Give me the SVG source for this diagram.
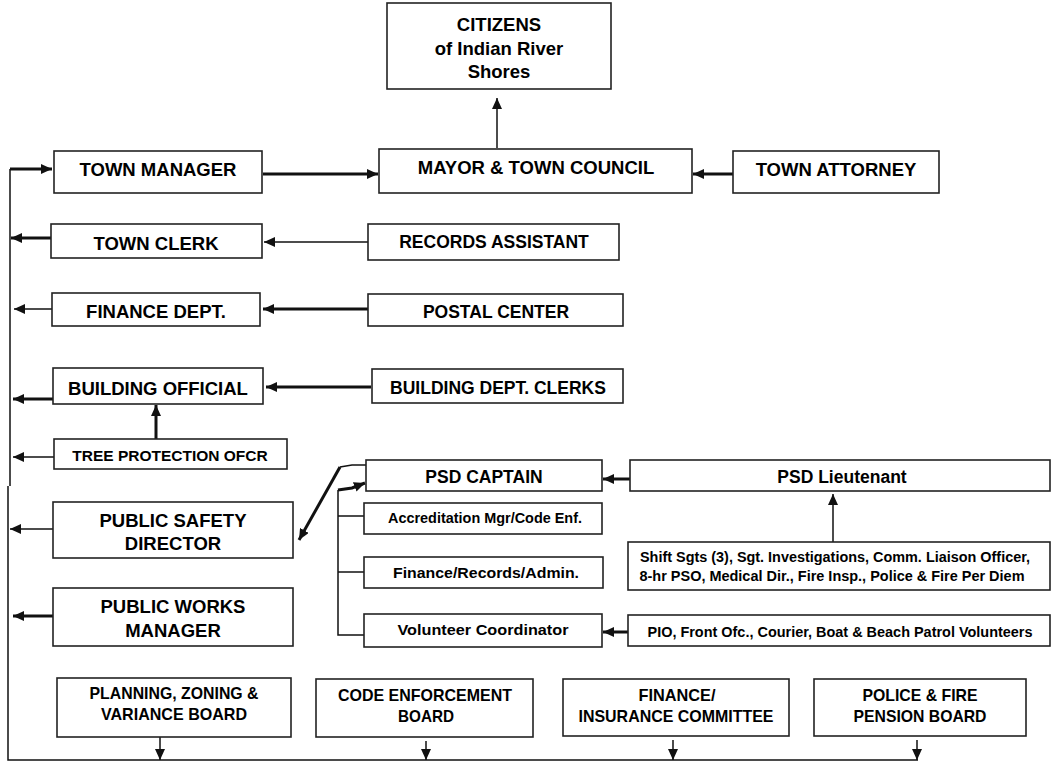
<svg xmlns="http://www.w3.org/2000/svg" width="1052" height="763" viewBox="0 0 1052 763">
<style>
.box{fill:#fff;stroke:#222;stroke-width:1.6}
text{font-family:"Liberation Sans",Arial,sans-serif;font-weight:bold;fill:#000;text-anchor:middle}
.t1{font-size:18.5px}
.t2{font-size:17.5px}
.t3{font-size:15.5px}
.t4{font-size:17px}
.t5{font-size:14px}
.thin{fill:none;stroke:#111;stroke-width:1.5}
.thick{fill:none;stroke:#111;stroke-width:3}
.arr{marker-end:url(#ah)}
</style>
<defs>
<marker id="ah" markerUnits="userSpaceOnUse" markerWidth="12" markerHeight="10" refX="11" refY="5" orient="auto">
<path d="M0,0 L11,5 L0,10 z" fill="#111"/>
</marker>
</defs>
<rect width="1052" height="763" fill="#fff"/>

<g id="connectors">
<!-- main left bus -->
<polyline class="thin" points="10,169 10,486"/>
<polyline class="thin" points="8,486 8,760 918,760"/>
<line class="thick arr" x1="10" y1="169" x2="52" y2="169"/>
<line class="thick arr" x1="263" y1="174" x2="378" y2="174"/>
<line class="thick arr" x1="733" y1="174" x2="693" y2="174"/>
<line class="thin arr" x1="497" y1="148" x2="497" y2="98"/>
<line class="thick arr" x1="51" y1="238" x2="11" y2="238"/>
<line class="thin arr" x1="368" y1="242" x2="264" y2="242"/>
<line class="thin arr" x1="52" y1="309" x2="14" y2="309"/>
<line class="thick arr" x1="368" y1="309" x2="263" y2="309"/>
<line class="thick arr" x1="53" y1="399" x2="13" y2="399"/>
<line class="thick arr" x1="371" y1="387" x2="266" y2="387"/>
<line class="thick arr" x1="156" y1="439" x2="156" y2="405"/>
<line class="thin arr" x1="54" y1="457" x2="13" y2="457"/>
<line class="thin arr" x1="53" y1="529" x2="10" y2="529"/>
<line class="thick arr" x1="53" y1="616" x2="13" y2="616"/>
<!-- PSD -->
<polyline class="thin" points="366,465 352,465 340,467"/>
<line class="thick arr" x1="340" y1="467" x2="299" y2="540"/>
<polyline class="thick arr" points="338,490 352,488 365,483"/>
<polyline class="thin" points="338,490 338,635 364,635"/>
<line class="thin" x1="338" y1="516" x2="364" y2="516"/>
<line class="thin" x1="338" y1="572" x2="364" y2="572"/>
<line class="thick arr" x1="630" y1="479" x2="603" y2="479"/>
<line class="thin arr" x1="833" y1="542" x2="833" y2="494"/>
<line class="thick arr" x1="628" y1="632" x2="603" y2="632"/>
<!-- bottom boards -->
<line class="thin arr" x1="160" y1="737" x2="160" y2="760"/>
<line class="thin arr" x1="426" y1="741" x2="426" y2="760"/>
<line class="thin arr" x1="673" y1="740" x2="673" y2="760"/>
<line class="thin arr" x1="917" y1="740" x2="917" y2="760"/>
</g>

<g id="citizens"><rect class="box" x="387" y="3" width="224" height="86"/>
<text class="t1" x="499" y="31">CITIZENS</text><text class="t1" x="499" y="55">of Indian River</text><text class="t1" x="499" y="78">Shores</text></g>
<g id="town-manager"><rect class="box" x="54" y="151" width="208" height="42"/><text class="t1" x="158" y="176">TOWN MANAGER</text></g>
<g id="mayor"><rect class="box" x="379" y="149" width="313" height="44"/><text class="t1" x="536" y="174">MAYOR &amp; TOWN COUNCIL</text></g>
<g id="town-attorney"><rect class="box" x="733" y="151" width="206" height="42"/><text class="t1" x="836" y="176">TOWN ATTORNEY</text></g>
<g id="town-clerk"><rect class="box" x="51" y="224" width="211" height="34"/><text class="t1" x="156" y="250">TOWN CLERK</text></g>
<g id="records-assistant"><rect class="box" x="368" y="224" width="251" height="36"/><text class="t2" x="494" y="248">RECORDS ASSISTANT</text></g>
<g id="finance-dept"><rect class="box" x="52" y="293" width="208" height="33"/><text class="t1" x="156" y="318">FINANCE DEPT.</text></g>
<g id="postal-center"><rect class="box" x="368" y="294" width="255" height="32"/><text class="t2" x="496" y="318">POSTAL CENTER</text></g>
<g id="building-official"><rect class="box" x="53" y="368" width="210" height="36"/><text class="t1" x="158" y="395">BUILDING OFFICIAL</text></g>
<g id="building-clerks"><rect class="box" x="372" y="369" width="251" height="34"/><text class="t2" x="498" y="394">BUILDING DEPT. CLERKS</text></g>
<g id="tree-protection"><rect class="box" x="54" y="439" width="233" height="30"/><text class="t3" x="170" y="461">TREE PROTECTION OFCR</text></g>
<g id="psd-captain"><rect class="box" x="366" y="460" width="236" height="31"/><text class="t2" x="484" y="483">PSD CAPTAIN</text></g>
<g id="psd-lieutenant"><rect class="box" x="630" y="460" width="420" height="31"/><text class="t2" x="842" y="483">PSD Lieutenant</text></g>
<g id="accreditation"><rect class="box" x="364" y="503" width="238" height="31"/><text class="t3" x="485" y="523" textLength="194" lengthAdjust="spacingAndGlyphs">Accreditation Mgr/Code Enf.</text></g>
<g id="finance-records"><rect class="box" x="364" y="557" width="239" height="31"/><text class="t3" x="486" y="578" textLength="186" lengthAdjust="spacingAndGlyphs">Finance/Records/Admin.</text></g>
<g id="volunteer-coordinator"><rect class="box" x="364" y="614" width="238" height="33"/><text class="t3" x="483" y="635" textLength="171" lengthAdjust="spacingAndGlyphs">Volunteer Coordinator</text></g>
<g id="shift-sgts"><rect class="box" x="628" y="542" width="422" height="48"/>
<text class="t5" x="835" y="562" textLength="390" lengthAdjust="spacingAndGlyphs">Shift Sgts (3), Sgt. Investigations, Comm. Liaison Officer,</text>
<text class="t5" x="832" y="581" textLength="385" lengthAdjust="spacingAndGlyphs">8-hr PSO, Medical Dir., Fire Insp., Police &amp; Fire Per Diem</text></g>
<g id="pio"><rect class="box" x="628" y="615" width="422" height="31"/><text class="t5" x="840" y="637" textLength="385" lengthAdjust="spacingAndGlyphs">PIO, Front Ofc., Courier, Boat &amp; Beach Patrol Volunteers</text></g>
<g id="public-safety-director"><rect class="box" x="53" y="502" width="240" height="56"/>
<text class="t1" x="173" y="527">PUBLIC SAFETY</text><text class="t1" x="173" y="550">DIRECTOR</text></g>
<g id="public-works-manager"><rect class="box" x="53" y="588" width="240" height="58"/>
<text class="t1" x="173" y="613">PUBLIC WORKS</text><text class="t1" x="173" y="637">MANAGER</text></g>
<g id="planning-board"><rect class="box" x="57" y="678" width="234" height="59"/>
<text class="t4" x="174" y="699" textLength="169" lengthAdjust="spacingAndGlyphs">PLANNING, ZONING &amp;</text>
<text class="t4" x="174" y="720" textLength="146" lengthAdjust="spacingAndGlyphs">VARIANCE BOARD</text></g>
<g id="code-enforcement-board"><rect class="box" x="316" y="679" width="217" height="58"/>
<text class="t4" x="425" y="701" textLength="174" lengthAdjust="spacingAndGlyphs">CODE ENFORCEMENT</text>
<text class="t4" x="426" y="722" textLength="56" lengthAdjust="spacingAndGlyphs">BOARD</text></g>
<g id="finance-insurance-committee"><rect class="box" x="563" y="679" width="226" height="57"/>
<text class="t4" x="677" y="701" textLength="77" lengthAdjust="spacingAndGlyphs">FINANCE/</text>
<text class="t4" x="676" y="722" textLength="195" lengthAdjust="spacingAndGlyphs">INSURANCE COMMITTEE</text></g>
<g id="police-fire-pension-board"><rect class="box" x="814" y="679" width="212" height="57"/>
<text class="t4" x="920" y="701" textLength="115" lengthAdjust="spacingAndGlyphs">POLICE &amp; FIRE</text>
<text class="t4" x="920" y="722" textLength="133" lengthAdjust="spacingAndGlyphs">PENSION BOARD</text></g>
</svg>
